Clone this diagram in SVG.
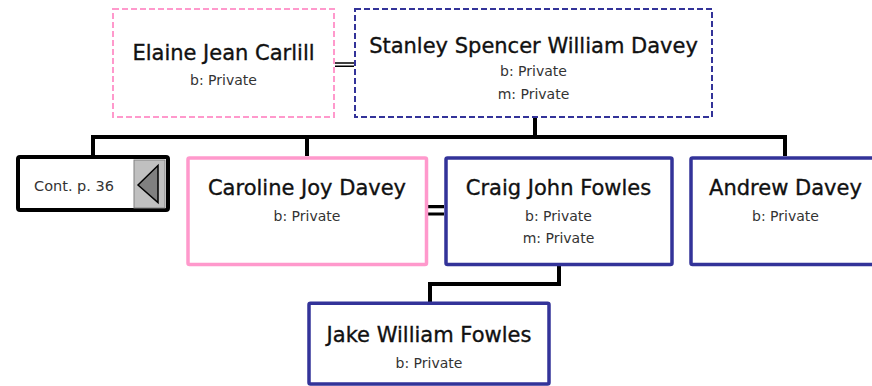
<svg xmlns="http://www.w3.org/2000/svg" width="872" height="386" viewBox="0 0 872 386">
<style>
.box{fill:#fff;stroke-width:3.5}
.f{stroke:#ff99cc}
.m{stroke:#333399}
.dash{fill:#fff;stroke-width:2;stroke-dasharray:6 3}
.name{font-family:"DejaVu Sans",sans-serif;font-size:21px;fill:#111;stroke:#111;stroke-width:0.35;text-anchor:middle}
.det{font-family:"DejaVu Sans",sans-serif;font-size:14px;fill:#333;text-anchor:middle}
.ln{fill:none;stroke:#000;stroke-width:4}
.dbl{fill:none;stroke:#000}
</style>
<rect width="872" height="386" fill="#fff"/>
<g id="connectors">
<path class="ln" d="M535 117V137M93 137H785M93 135V156M307 135V156M785 135V156"/>
<path class="ln" d="M559 266V284H430V303"/>
<path class="dbl" stroke-width="1.6" d="M335 63H354M335 66.3H354"/>
<path class="dbl" stroke-width="3.2" d="M428 206.7H444M428 214H444"/>
</g>
<g id="elaine">
<rect class="dash f" x="113" y="9" width="221" height="108"/>
<text class="name" x="223.5" y="60">Elaine Jean Carlill</text>
<text class="det" x="223.5" y="85">b: Private</text>
</g>
<g id="stanley">
<rect class="dash m" x="355" y="9" width="357" height="108"/>
<text class="name" x="533.5" y="53">Stanley Spencer William Davey</text>
<text class="det" x="533.5" y="76">b: Private</text>
<text class="det" x="533.5" y="99">m: Private</text>
</g>
<g id="cont">
<rect x="18" y="157" width="150" height="53" rx="2" fill="#fff" stroke="#000" stroke-width="4"/>
<rect x="134" y="160" width="31" height="48" fill="#c0c0c0" stroke="#808080" stroke-width="1"/>
<polygon points="138,185 158,165.5 158,202.5" fill="#808080" stroke="#000" stroke-width="1.5"/>
<text class="det" x="74" y="191" style="font-size:14.5px">Cont. p. 36</text>
</g>
<g id="caroline">
<rect class="box f" x="188" y="158" width="238.5" height="106.5" rx="1.5"/>
<text class="name" x="307" y="195">Caroline Joy Davey</text>
<text class="det" x="307" y="221">b: Private</text>
</g>
<g id="craig">
<rect class="box m" x="446" y="158" width="226" height="106.5" rx="1.5"/>
<text class="name" x="558.5" y="195">Craig John Fowles</text>
<text class="det" x="558.5" y="221">b: Private</text>
<text class="det" x="558.5" y="243">m: Private</text>
</g>
<g id="andrew">
<rect class="box m" x="691" y="158" width="190" height="106.5" rx="1.5"/>
<text class="name" x="785.5" y="195">Andrew Davey</text>
<text class="det" x="785.5" y="221">b: Private</text>
</g>
<g id="jake">
<rect class="box m" x="309" y="303.3" width="240" height="80.7" rx="1.5"/>
<text class="name" x="429" y="342">Jake William Fowles</text>
<text class="det" x="429" y="368">b: Private</text>
</g>
</svg>
